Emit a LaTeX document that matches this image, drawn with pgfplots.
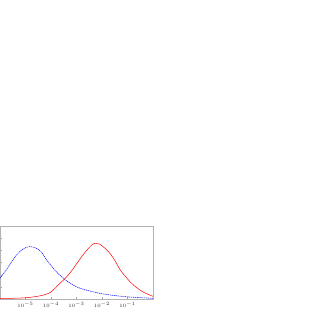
\documentclass[border=0pt]{standalone}
\usepackage{fontspec}
\setsansfont{Liberation Sans}
\usepackage{pgfplots}
\pgfplotsset{compat=1.18}
\begin{document}
\begin{tikzpicture}[x=1pt,y=1pt]
\path[use as bounding box,fill=white] (0,0) rectangle (327,327);
\begin{axis}[
  at={(0pt,28pt)}, anchor=south west,
  scale only axis, width=153pt, height=73pt,
  xmode=log, xmin=1e-6, xmax=1,
  ymin=0, ymax=0.6,
  xtick={1e-5,1e-4,1e-3,1e-2,1e-1},
  xticklabels={$10^{-5}$,$10^{-4}$,$10^{-3}$,$10^{-2}$,$10^{-1}$},
  xminorticks=false,
  ytick={0,0.1,0.2,0.3,0.4,0.5,0.6},
  yticklabels={},
  tick pos=left, tick align=inside,
  major tick length=2pt,
  tick style={gray!70, line width=0.3pt},
  axis line style={gray!60, line width=0.4pt},
  xticklabel style={font=\fontsize{5}{6}\selectfont, text=black!80},
  clip=true,
]
\addplot[blue, line width=0.5pt, dash pattern=on 1.2pt off 0.7pt, smooth] coordinates {
(1e-6,0.170) (1.778e-6,0.24) (3.162e-6,0.32) (5.623e-6,0.385) (1e-5,0.422)
(1.514e-5,0.430) (2.512e-5,0.42) (3.981e-5,0.39) (6.310e-5,0.33) (1e-4,0.275)
(1.778e-4,0.215) (3.311e-4,0.165) (5.623e-4,0.13) (1e-3,0.10) (2.138e-3,0.076)
(5.012e-3,0.057) (1e-2,0.043) (2.512e-2,0.031) (7.943e-2,0.019) (0.3162,0.011) (1,0.006)
};
\addplot[red, line width=0.5pt, smooth] coordinates {
(1e-6,0.004) (3.162e-6,0.006) (1e-5,0.010) (2.344e-5,0.019) (5.012e-5,0.032)
(9.120e-5,0.052) (1.445e-4,0.088) (2.239e-4,0.129) (3.311e-4,0.162) (5.623e-4,0.215)
(8.710e-4,0.27) (1.380e-3,0.33) (2.512e-3,0.40) (3.981e-3,0.445) (5.623e-3,0.458)
(7.943e-3,0.452) (1.259e-2,0.42) (2.042e-2,0.375) (3.236e-2,0.315) (5.129e-2,0.24)
(7.943e-2,0.19) (0.1259,0.142) (0.1950,0.105) (0.3090,0.074) (0.5012,0.048) (1,0.022)
};
\end{axis}
\end{tikzpicture}
\end{document}
